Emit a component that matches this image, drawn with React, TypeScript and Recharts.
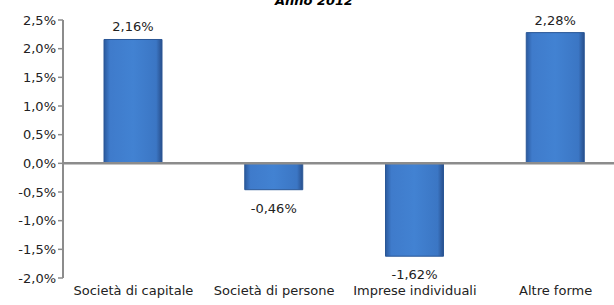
import React from "react";
import {
  BarChart,
  Bar,
  XAxis,
  YAxis,
  ReferenceLine,
  LabelList,
} from "recharts";

const categories = [
  "Società di capitale",
  "Società di persone",
  "Imprese individuali",
  "Altre forme",
];
const values = [2.16, -0.46, -1.62, 2.28];
const yTicks = [-2.0, -1.5, -1.0, -0.5, 0, 0.5, 1.0, 1.5, 2.0, 2.5];

const data = categories.map((name, i) => ({ name, value: values[i] }));

const FONT = "'DejaVu Sans', Verdana, sans-serif";
const AXIS_GRAY = "#8c8c8c";

const fmt = (v: number, digits: number) =>
  v.toFixed(digits).replace(".", ",") + "%";

// value labels: above positive bars, below negative ones
const renderLabel = (props: any) => {
  const { x, y, width, height, value } = props;
  const top = Math.min(y, y + height);
  const bottom = Math.max(y, y + height);
  const cx = x + width / 2;
  const ty = value >= 0 ? top - 8 : bottom + 23;
  return (
    <text
      x={cx}
      y={ty}
      textAnchor="middle"
      fontSize={13}
      fontFamily={FONT}
      fill="#222"
    >
      {fmt(value, 2)}
    </text>
  );
};

export default function App() {
  return (
    <div
      style={{
        position: "absolute",
        left: 0,
        top: 0,
        width: 614,
        height: 305,
        overflow: "hidden",
        background: "#fff",
      }}
    >
      <div
        style={{
          position: "absolute",
          left: 314,
          top: -6,
          transform: "translateX(-50%)",
          fontFamily: FONT,
          fontSize: 13,
          fontWeight: "bold",
          fontStyle: "italic",
          lineHeight: "13px",
          whiteSpace: "nowrap",
        }}
      >
        Anno 2012
      </div>
      <BarChart
        width={626}
        height={305}
        data={data}
        margin={{ top: 20, right: 0, bottom: 0, left: 0 }}
      >
        <defs>
          <linearGradient id="barFill" x1="0" y1="0" x2="1" y2="0">
            <stop offset="0%" stopColor="#2b5a9e" />
            <stop offset="10%" stopColor="#3f7bcb" />
            <stop offset="50%" stopColor="#4282d2" />
            <stop offset="90%" stopColor="#3b76c4" />
            <stop offset="100%" stopColor="#284f8c" />
          </linearGradient>
        </defs>
        <XAxis
          dataKey="name"
          axisLine={false}
          tickLine={false}
          height={27}
          interval={0}
          tick={{ fontSize: 13, fontFamily: FONT, fill: "#222" }}
        />
        <YAxis
          width={63}
          domain={[-2.0, 2.5]}
          ticks={yTicks}
          interval={0}
          tickFormatter={(v: number) => fmt(v, 1)}
          axisLine={{ stroke: AXIS_GRAY, strokeWidth: 2 }}
          tickLine={{ stroke: AXIS_GRAY, strokeWidth: 1.5 }}
          tickSize={5}
          tick={{ fontSize: 13, fontFamily: FONT, fill: "#222" }}
        />
        <Bar
          dataKey="value"
          barSize={58}
          fill="url(#barFill)"
          stroke="#2a5796"
          strokeWidth={1}
          isAnimationActive={false}
        >
          <LabelList dataKey="value" content={renderLabel} />
        </Bar>
        <ReferenceLine y={0} stroke={AXIS_GRAY} strokeWidth={2.5} />
      </BarChart>
    </div>
  );
}
